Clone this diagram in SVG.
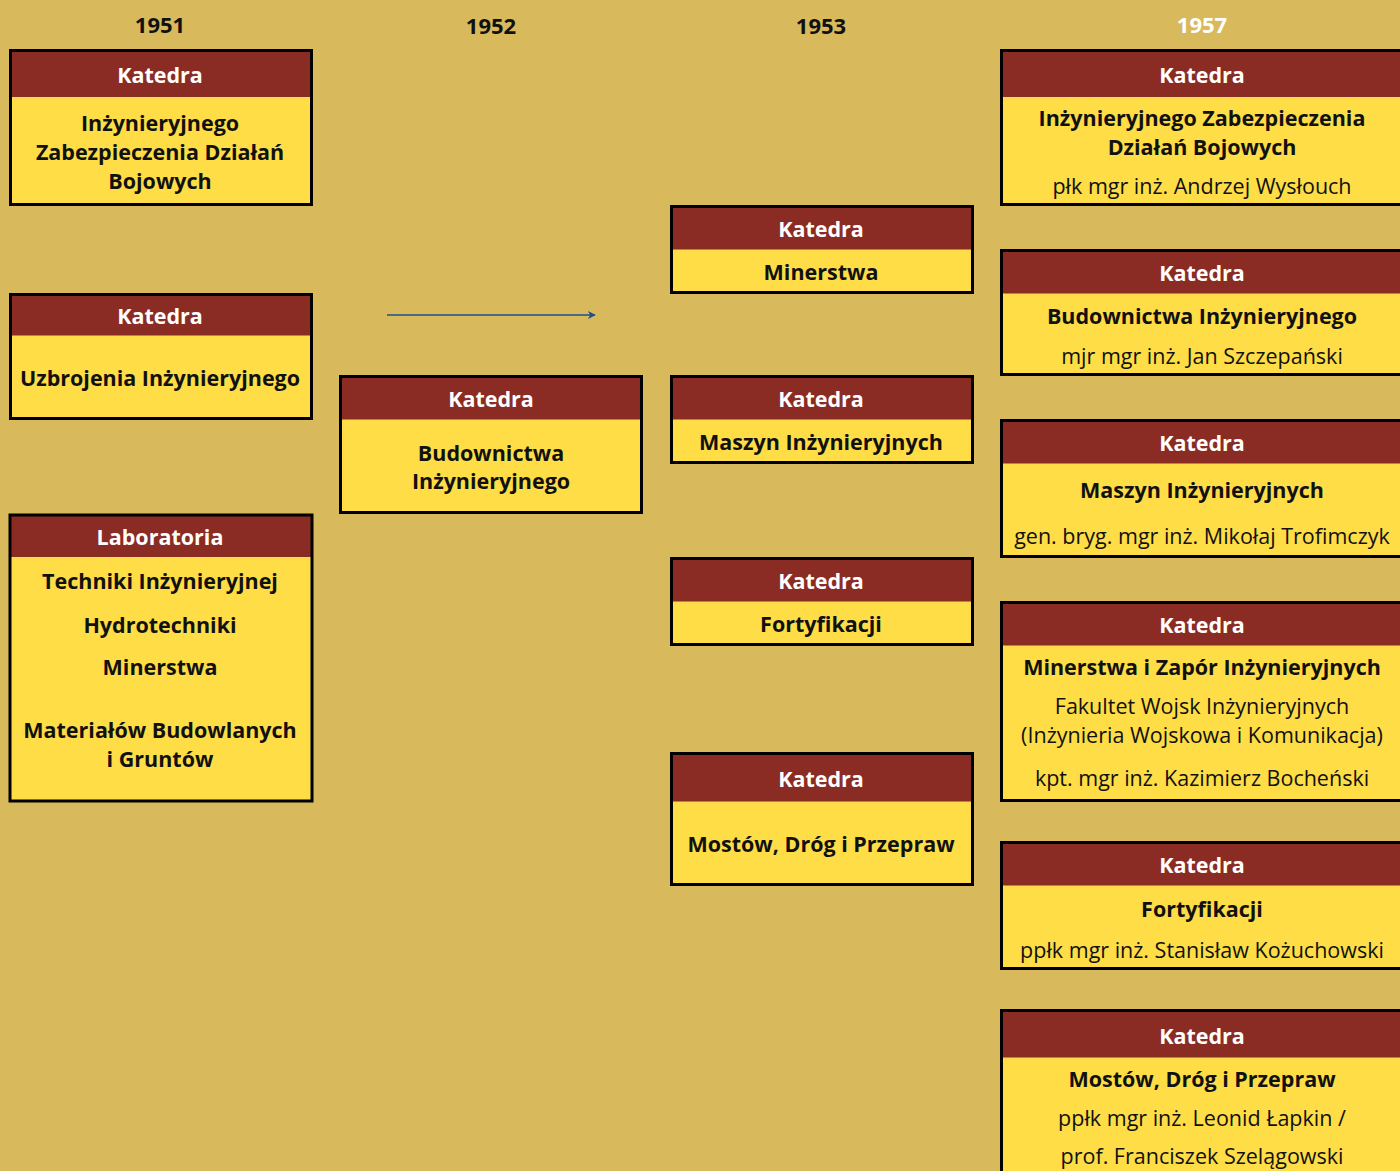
<svg xmlns="http://www.w3.org/2000/svg" width="1400" height="1171" viewBox="0 0 1400 1171">
<defs>
<style>
.bg{fill:#d8b95b}
.body{fill:#fedd46}
.head{fill:#8a2c24}
.frame{fill:none;stroke:#000;stroke-width:3}
text{font-family:"Open Sans","Noto Sans","Liberation Sans",sans-serif;text-anchor:middle;dominant-baseline:central;transform:translateY(-1px)}
.yr{font-size:22px;font-weight:700;fill:#111}
.yrw{font-size:22px;font-weight:700;fill:#fff}
.h{font-size:21.5px;font-weight:700;fill:#fff}
.b{font-size:21.5px;font-weight:700;fill:#111}
.r{font-size:21.5px;font-weight:400;fill:#111}
</style>
<marker id="arr" viewBox="0 0 10 10" refX="9" refY="5" markerWidth="8" markerHeight="8" markerUnits="userSpaceOnUse" orient="auto">
<path d="M0,0 L10,5 L0,10 L3,5 Z" fill="#1f4f8f"/>
</marker>
</defs>
<rect class="bg" x="0" y="0" width="1400" height="1171"/>
<g id="years">
<text class="yr" x="160" y="25">1951</text>
<text class="yr" x="491" y="26">1952</text>
<text class="yr" x="821" y="26">1953</text>
<text class="yrw" x="1202" y="25">1957</text>
</g>
<g id="connectors">
<line x1="387" y1="315" x2="595" y2="315" stroke="#1f4f8f" stroke-width="1.5" marker-end="url(#arr)"/>
</g>
<g id="n1951a">
<rect class="body" x="10.5" y="50.5" width="301" height="154"/>
<rect class="head" x="10.5" y="50.5" width="301" height="46.5"/>
<rect class="frame" x="10.5" y="50.5" width="301" height="154"/>
<text class="h" x="160" y="75">Katedra</text>
<text class="b" x="160" y="123">Inżynieryjnego</text>
<text class="b" x="160" y="152">Zabezpieczenia Działań</text>
<text class="b" x="160" y="181">Bojowych</text>
</g>
<g id="n1951b">
<rect class="body" x="10.5" y="294.5" width="301" height="124"/>
<rect class="head" x="10.5" y="294.5" width="301" height="41"/>
<rect class="frame" x="10.5" y="294.5" width="301" height="124"/>
<text class="h" x="160" y="316">Katedra</text>
<text class="b" x="160" y="378">Uzbrojenia Inżynieryjnego</text>
</g>
<g id="n1951c">
<rect class="body" x="10" y="515" width="302" height="286"/>
<rect class="head" x="10" y="515" width="302" height="42"/>
<rect class="frame" x="10" y="515" width="302" height="286" stroke-width="2"/>
<text class="h" x="160" y="537">Laboratoria</text>
<text class="b" x="160" y="581">Techniki Inżynieryjnej</text>
<text class="b" x="160" y="625">Hydrotechniki</text>
<text class="b" x="160" y="667">Minerstwa</text>
<text class="b" x="160" y="730">Materiałów Budowlanych</text>
<text class="b" x="160" y="759">i Gruntów</text>
</g>
<g id="n1952">
<rect class="body" x="340.5" y="376.5" width="301" height="136"/>
<rect class="head" x="340.5" y="376.5" width="301" height="43"/>
<rect class="frame" x="340.5" y="376.5" width="301" height="136"/>
<text class="h" x="491" y="399">Katedra</text>
<text class="b" x="491" y="453">Budownictwa</text>
<text class="b" x="491" y="481">Inżynieryjnego</text>
</g>
<g id="n1953a">
<rect class="body" x="671.5" y="206.5" width="301" height="86"/>
<rect class="head" x="671.5" y="206.5" width="301" height="43"/>
<rect class="frame" x="671.5" y="206.5" width="301" height="86"/>
<text class="h" x="821" y="229">Katedra</text>
<text class="b" x="821" y="272">Minerstwa</text>
</g>
<g id="n1953b">
<rect class="body" x="671.5" y="376.5" width="301" height="86"/>
<rect class="head" x="671.5" y="376.5" width="301" height="43"/>
<rect class="frame" x="671.5" y="376.5" width="301" height="86"/>
<text class="h" x="821" y="399">Katedra</text>
<text class="b" x="821" y="442">Maszyn Inżynieryjnych</text>
</g>
<g id="n1953c">
<rect class="body" x="671.5" y="558.5" width="301" height="86"/>
<rect class="head" x="671.5" y="558.5" width="301" height="43"/>
<rect class="frame" x="671.5" y="558.5" width="301" height="86"/>
<text class="h" x="821" y="581">Katedra</text>
<text class="b" x="821" y="624">Fortyfikacji</text>
</g>
<g id="n1953d">
<rect class="body" x="671.5" y="753.5" width="301" height="131"/>
<rect class="head" x="671.5" y="753.5" width="301" height="48"/>
<rect class="frame" x="671.5" y="753.5" width="301" height="131"/>
<text class="h" x="821" y="779">Katedra</text>
<text class="b" x="821" y="844">Mostów, Dróg i Przepraw</text>
</g>
<g id="n1957a">
<rect class="body" x="1001.5" y="50.5" width="420" height="154"/>
<rect class="head" x="1001.5" y="50.5" width="420" height="46.5"/>
<rect class="frame" x="1001.5" y="50.5" width="420" height="154"/>
<text class="h" x="1202" y="75">Katedra</text>
<text class="b" x="1202" y="118">Inżynieryjnego Zabezpieczenia</text>
<text class="b" x="1202" y="147">Działań Bojowych</text>
<text class="r" x="1202" y="186">płk mgr inż. Andrzej Wysłouch</text>
</g>
<g id="n1957b">
<rect class="body" x="1001.5" y="250.5" width="420" height="124"/>
<rect class="head" x="1001.5" y="250.5" width="420" height="43"/>
<rect class="frame" x="1001.5" y="250.5" width="420" height="124"/>
<text class="h" x="1202" y="273">Katedra</text>
<text class="b" x="1202" y="316">Budownictwa Inżynieryjnego</text>
<text class="r" x="1202" y="356">mjr mgr inż. Jan Szczepański</text>
</g>
<g id="n1957c">
<rect class="body" x="1001.5" y="420.5" width="420" height="136"/>
<rect class="head" x="1001.5" y="420.5" width="420" height="43"/>
<rect class="frame" x="1001.5" y="420.5" width="420" height="136"/>
<text class="h" x="1202" y="443">Katedra</text>
<text class="b" x="1202" y="490">Maszyn Inżynieryjnych</text>
<text class="r" x="1202" y="536">gen. bryg. mgr inż. Mikołaj Trofimczyk</text>
</g>
<g id="n1957d">
<rect class="body" x="1001.5" y="602.5" width="420" height="198"/>
<rect class="head" x="1001.5" y="602.5" width="420" height="43"/>
<rect class="frame" x="1001.5" y="602.5" width="420" height="198"/>
<text class="h" x="1202" y="625">Katedra</text>
<text class="b" x="1202" y="667">Minerstwa i Zapór Inżynieryjnych</text>
<text class="r" x="1202" y="706">Fakultet Wojsk Inżynieryjnych</text>
<text class="r" x="1202" y="735">(Inżynieria Wojskowa i Komunikacja)</text>
<text class="r" x="1202" y="778">kpt. mgr inż. Kazimierz Bocheński</text>
</g>
<g id="n1957e">
<rect class="body" x="1001.5" y="842.5" width="420" height="126"/>
<rect class="head" x="1001.5" y="842.5" width="420" height="43"/>
<rect class="frame" x="1001.5" y="842.5" width="420" height="126"/>
<text class="h" x="1202" y="865">Katedra</text>
<text class="b" x="1202" y="909">Fortyfikacji</text>
<text class="r" x="1202" y="950">ppłk mgr inż. Stanisław Kożuchowski</text>
</g>
<g id="n1957f">
<rect class="body" x="1001.5" y="1010.5" width="420" height="200"/>
<rect class="head" x="1001.5" y="1010.5" width="420" height="47"/>
<rect class="frame" x="1001.5" y="1010.5" width="420" height="200"/>
<text class="h" x="1202" y="1036">Katedra</text>
<text class="b" x="1202" y="1079">Mostów, Dróg i Przepraw</text>
<text class="r" x="1202" y="1118">ppłk mgr inż. Leonid Łapkin /</text>
<text class="r" x="1202" y="1156">prof. Franciszek Szelągowski</text>
</g>
</svg>
